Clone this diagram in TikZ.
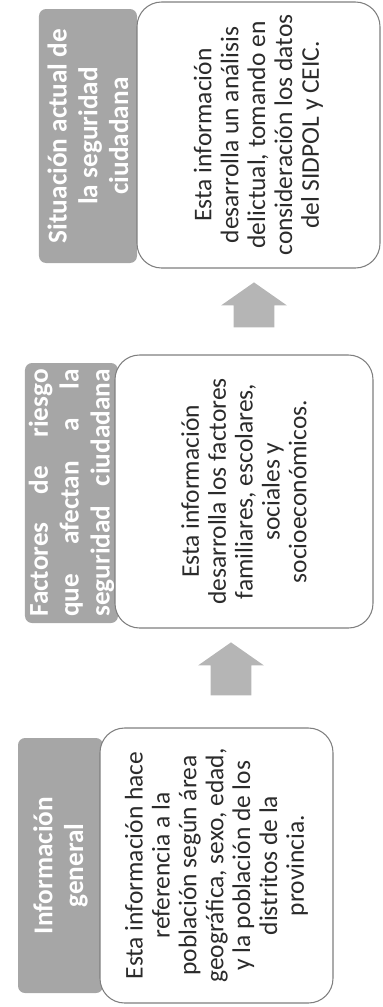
\documentclass[tikz,border=0pt]{standalone}
\usepackage{fontspec}
\setmainfont{Carlito}
\usetikzlibrary{shapes.arrows}
\definecolor{hdrgray}{HTML}{A6A6A6}
\definecolor{arrgray}{HTML}{B5B5B5}
\definecolor{boxline}{HTML}{7F7F7F}
\definecolor{txtdark}{HTML}{2B2B2B}
\newcommand{\fullline}[1]{\makebox[4.95cm][s]{#1}}

\begin{document}
\begin{tikzpicture}[
  header/.style={rotate=90,fill=hdrgray,rounded corners=4pt,text=white,inner sep=2pt,
    align=center,font=\fontsize{15.5}{17.5}\selectfont\bfseries},
  infobox/.style={rotate=90,draw=boxline,line width=0.6pt,rounded corners=14pt,fill=white,
    text=txtdark,align=center,font=\fontsize{14.5}{15.3}\selectfont},
  uparrow/.style={single arrow,rotate=90,fill=arrgray,inner sep=0pt,inner ysep=0.4cm,
    single arrow head extend=0.25cm,single arrow tip angle=110}
]
  \useasboundingbox (0,0) rectangle (7.66,-20.14);

  % situacion actual
  \node[header,minimum width=5.08cm,minimum height=1.96cm] (sithead) at (1.76,-2.72)
    {Situación actual de\\la seguridad\\ciudadana};
  \node[infobox,minimum width=5.32cm,minimum height=4.86cm] (sitbox) at (5.17,-2.70)
    {Esta información\\desarrolla un análisis\\delictual, tomando en\\consideración los datos\\del SIDPOL y CEIC.};

  \node[uparrow,minimum height=0.9cm] (uptop) at (5.08,-6.24) {};

  % factores de riesgo
  \node[header,minimum width=5.2cm,minimum height=1.86cm] (riskhead) at (1.43,-9.86)
    {\fullline{Factores de riesgo}\\\fullline{que afectan a la}\\\fullline{seguridad ciudadana}};
  \node[infobox,minimum width=5.46cm,minimum height=5.16cm] (riskbox) at (4.88,-9.83)
    {Esta información\\desarrolla los factores\\familiares, escolares,\\sociales y\\socioeconómicos.};

  \node[uparrow,minimum height=1.06cm] (upmid) at (4.62,-13.52) {};

  % informacion general
  \node[header,minimum width=5.1cm,minimum height=1.7cm] (genhead) at (1.21,-17.31)
    {Información\\general};
  \node[infobox,minimum width=5.5cm,minimum height=4.66cm] (genbox) at (4.33,-17.31)
    {Esta información hace\\referencia a la\\población según área\\geográfica, sexo, edad,\\y la población de los\\distritos de la\\provincia.};
\end{tikzpicture}
\end{document}
